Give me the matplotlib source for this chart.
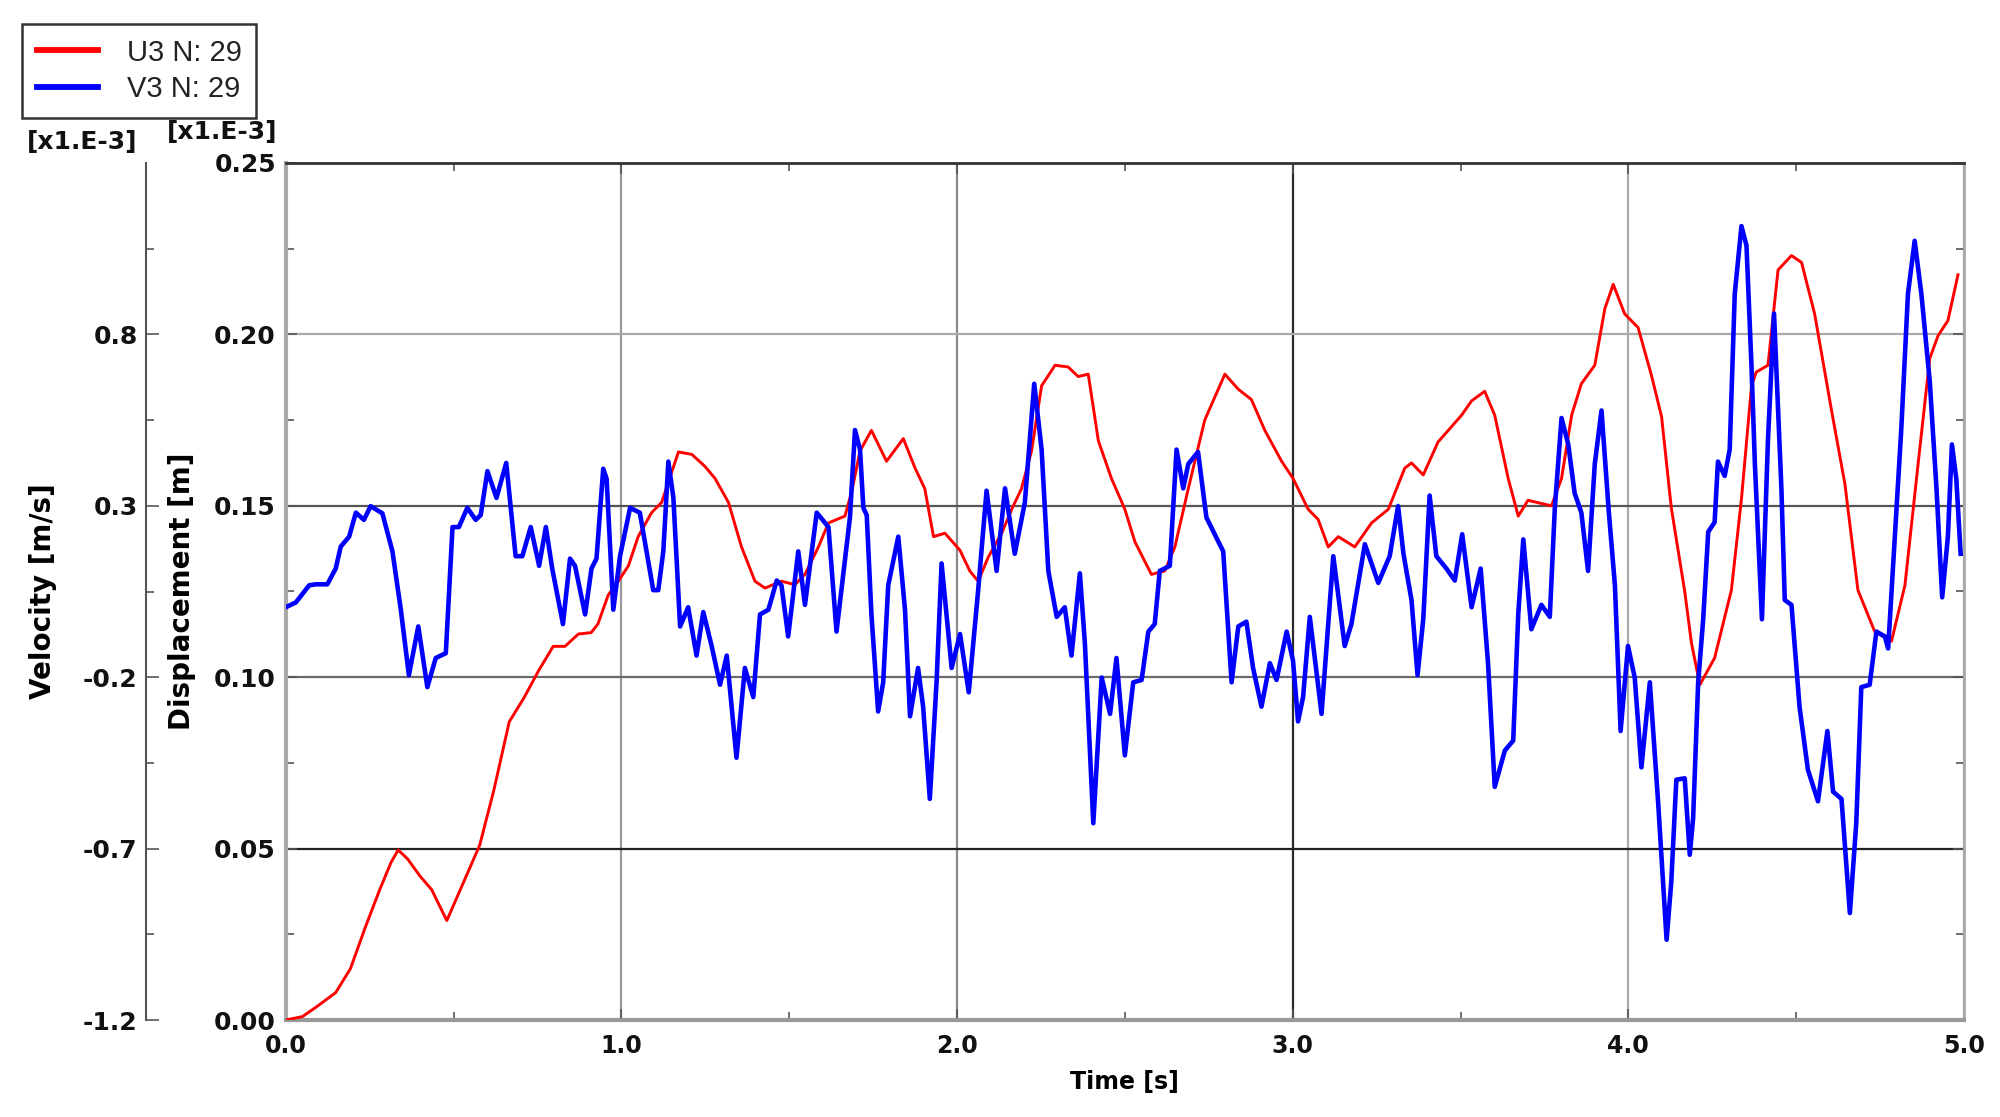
import matplotlib
matplotlib.use('Agg')
import matplotlib.pyplot as plt
from matplotlib.ticker import FixedLocator, FormatStrFormatter, MultipleLocator
from matplotlib.lines import Line2D

plt.rcParams['font.family'] = ['DejaVu Sans']

# ---------------- data ----------------
# U3 displacement [m] (x1.E-3)
time_u3 = [0.000, 0.050, 0.094, 0.149, 0.193, 0.237, 0.280, 0.314, 0.335, 0.363,
           0.400, 0.435, 0.480, 0.520, 0.578, 0.620, 0.666, 0.710, 0.754, 0.797,
           0.832, 0.872, 0.910, 0.930, 0.961, 0.991, 1.021, 1.050, 1.090, 1.120,
           1.170, 1.210, 1.249, 1.279, 1.319, 1.358, 1.398, 1.428, 1.477, 1.517,
           1.547, 1.587, 1.617, 1.666, 1.686, 1.711, 1.745, 1.790, 1.840, 1.875,
           1.904, 1.930, 1.964, 2.009, 2.038, 2.063, 2.093, 2.133, 2.163, 2.192,
           2.222, 2.252, 2.292, 2.331, 2.361, 2.391, 2.421, 2.460, 2.500, 2.530,
           2.579, 2.619, 2.649, 2.689, 2.738, 2.798, 2.838, 2.877, 2.917, 2.967,
           3.001, 3.046, 3.076, 3.106, 3.136, 3.185, 3.235, 3.285, 3.334, 3.354,
           3.389, 3.433, 3.503, 3.533, 3.572, 3.602, 3.642, 3.672, 3.701, 3.771,
           3.801, 3.831, 3.860, 3.900, 3.930, 3.955, 3.989, 4.029, 4.069, 4.099,
           4.128, 4.168, 4.188, 4.213, 4.257, 4.307, 4.337, 4.367, 4.381, 4.416,
           4.446, 4.486, 4.516, 4.555, 4.605, 4.645, 4.684, 4.734, 4.784, 4.824,
           4.863, 4.898, 4.923, 4.952, 4.982]
disp_u3 = [0.000, 0.001, 0.004, 0.008, 0.015, 0.027, 0.038, 0.046, 0.0496, 0.047,
           0.042, 0.038, 0.029, 0.038, 0.051, 0.067, 0.087, 0.094, 0.102, 0.109,
           0.109, 0.1126, 0.113, 0.1155, 0.124, 0.128, 0.1325, 0.141, 0.148, 0.151,
           0.1657, 0.165, 0.1615, 0.158, 0.151, 0.138, 0.128, 0.126, 0.128, 0.127,
           0.130, 0.138, 0.145, 0.147, 0.154, 0.166, 0.172, 0.163, 0.1696, 0.161,
           0.155, 0.141, 0.142, 0.137, 0.131, 0.128, 0.135, 0.142, 0.149, 0.155,
           0.166, 0.185, 0.191, 0.1905, 0.1877, 0.1884, 0.169, 0.158, 0.149, 0.1395,
           0.130, 0.131, 0.138, 0.155, 0.175, 0.1884, 0.184, 0.181, 0.172, 0.163,
           0.158, 0.149, 0.146, 0.138, 0.141, 0.138, 0.145, 0.149, 0.161, 0.1625,
           0.159, 0.1686, 0.1764, 0.1806, 0.1834, 0.1764, 0.158, 0.147, 0.1516, 0.150,
           0.158, 0.1764, 0.1856, 0.191, 0.2075, 0.2146, 0.206, 0.202, 0.188, 0.176,
           0.1494, 0.125, 0.110, 0.0978, 0.1056, 0.1254, 0.152, 0.185, 0.189, 0.191,
           0.2188, 0.223, 0.221, 0.206, 0.178, 0.1565, 0.1254, 0.1133, 0.1105, 0.1268,
           0.162, 0.193, 0.1997, 0.204, 0.2174]

# V3 velocity [m/s] (x1.E-3)
time_v3 = [0.000, 0.030, 0.070, 0.089, 0.124, 0.149, 0.164, 0.189, 0.209, 0.233,
           0.253, 0.288, 0.318, 0.343, 0.367, 0.395, 0.422, 0.447, 0.477, 0.497,
           0.516, 0.541, 0.566, 0.581, 0.601, 0.628, 0.657, 0.685, 0.705, 0.730,
           0.755, 0.775, 0.794, 0.826, 0.847, 0.862, 0.892, 0.911, 0.926, 0.946,
           0.956, 0.976, 0.996, 1.026, 1.055, 1.095, 1.110, 1.125, 1.140, 1.155,
           1.175, 1.199, 1.224, 1.244, 1.269, 1.294, 1.314, 1.343, 1.368, 1.393,
           1.413, 1.438, 1.463, 1.477, 1.497, 1.527, 1.547, 1.582, 1.617, 1.641,
           1.681, 1.696, 1.711, 1.721, 1.731, 1.745, 1.765, 1.780, 1.795, 1.825,
           1.845, 1.860, 1.884, 1.899, 1.919, 1.939, 1.954, 1.984, 2.009, 2.035,
           2.063, 2.088, 2.118, 2.143, 2.172, 2.202, 2.230, 2.252, 2.272, 2.297,
           2.321, 2.341, 2.366, 2.381, 2.406, 2.431, 2.456, 2.475, 2.500, 2.525,
           2.550, 2.570, 2.589, 2.604, 2.634, 2.654, 2.674, 2.689, 2.718, 2.743,
           2.793, 2.818, 2.838, 2.862, 2.882, 2.907, 2.932, 2.952, 2.982, 3.001,
           3.016, 3.031, 3.051, 3.086, 3.121, 3.155, 3.175, 3.215, 3.255, 3.289,
           3.314, 3.330, 3.354, 3.372, 3.389, 3.408, 3.428, 3.458, 3.483, 3.505,
           3.533, 3.560, 3.582, 3.602, 3.632, 3.657, 3.672, 3.687, 3.711, 3.741,
           3.766, 3.781, 3.801, 3.821, 3.840, 3.860, 3.880, 3.900, 3.920, 3.942,
           3.960, 3.977, 3.999, 4.019, 4.039, 4.064, 4.089, 4.114, 4.128, 4.143,
           4.168, 4.183, 4.193, 4.208, 4.223, 4.238, 4.257, 4.267, 4.287, 4.302,
           4.317, 4.337, 4.352, 4.367, 4.377, 4.398, 4.416, 4.434, 4.456, 4.466,
           4.486, 4.510, 4.535, 4.565, 4.593, 4.610, 4.635, 4.660, 4.679, 4.694,
           4.719, 4.739, 4.764, 4.774, 4.794, 4.813, 4.833, 4.853, 4.873, 4.898,
           4.918, 4.935, 4.952, 4.964, 4.977, 4.990]
vel_v3 = [0.004, 0.018, 0.068, 0.071, 0.071, 0.117, 0.181, 0.210, 0.280, 0.259,
          0.299, 0.278, 0.167, -0.003, -0.194, -0.052, -0.229, -0.144, -0.130, 0.238,
          0.238, 0.294, 0.259, 0.273, 0.401, 0.323, 0.425, 0.153, 0.153, 0.238,
          0.125, 0.238, 0.117, -0.045, 0.146, 0.125, -0.017, 0.117, 0.146, 0.408,
          0.379, -0.003, 0.153, 0.294, 0.280, 0.054, 0.054, 0.167, 0.429, 0.323,
          -0.052, 0.004, -0.137, -0.010, -0.109, -0.222, -0.137, -0.435, -0.173, -0.258,
          -0.017, -0.003, 0.082, 0.068, -0.081, 0.167, 0.011, 0.280, 0.238, -0.067,
          0.266, 0.521, 0.464, 0.294, 0.273, -0.017, -0.300, -0.215, 0.068, 0.210,
          -0.003, -0.314, -0.173, -0.286, -0.555, -0.215, 0.132, -0.173, -0.074, -0.244,
          0.054, 0.344, 0.110, 0.351, 0.160, 0.309, 0.656, 0.464, 0.110, -0.024,
          0.004, -0.137, 0.103, -0.102, -0.626, -0.201, -0.307, -0.144, -0.428, -0.215,
          -0.208, -0.067, -0.045, 0.110, 0.125, 0.464, 0.351, 0.422, 0.457, 0.266,
          0.167, -0.215, -0.052, -0.038, -0.173, -0.286, -0.159, -0.208, -0.067, -0.152,
          -0.329, -0.258, -0.024, -0.307, 0.153, -0.109, -0.045, 0.188, 0.075, 0.153,
          0.299, 0.160, 0.025, -0.194, -0.031, 0.330, 0.153, 0.117, 0.082, 0.217,
          0.004, 0.117, -0.159, -0.520, -0.414, -0.385, -0.017, 0.202, -0.060, 0.011,
          -0.024, 0.294, 0.556, 0.479, 0.337, 0.280, 0.110, 0.422, 0.578, 0.280,
          0.068, -0.357, -0.109, -0.201, -0.463, -0.215, -0.569, -0.966, -0.796, -0.499,
          -0.495, -0.718, -0.612, -0.215, -0.031, 0.224, 0.252, 0.429, 0.387, 0.464,
          0.918, 1.116, 1.059, 0.705, 0.422, -0.031, 0.493, 0.861, 0.351, 0.025,
          0.011, -0.286, -0.470, -0.562, -0.357, -0.534, -0.555, -0.888, -0.626, -0.229,
          -0.222, -0.067, -0.081, -0.116, 0.210, 0.521, 0.918, 1.073, 0.918, 0.663,
          0.351, 0.033, 0.210, 0.479, 0.379, 0.160]

labels = ['U3 N: 29', 'V3 N: 29']
x_ticks = [0, 1, 2, 3, 4, 5]
disp_ticks = [0.00, 0.05, 0.10, 0.15, 0.20, 0.25]
vel_ticks = [-1.2, -0.7, -0.2, 0.3, 0.8]
vel_minor = [-0.95, -0.45, 0.05, 0.55, 1.05]

# ---------------- figure ----------------
W, H = 2000, 1117
fig = plt.figure(figsize=(W / 100, H / 100), dpi=100)
L, R = 285.7 / W, 1964 / W
B, T = 1 - 1020 / H, 1 - 163 / H
ax = fig.add_axes([L, B, R - L, T - B])
ax.set_xlim(0, 5)
ax.set_ylim(0, 0.25)

red, blue = '#ff0000', '#0000ff'
ax.plot(time_u3, disp_u3, color=red, lw=2.1, zorder=3)

ax2 = ax.twinx()
ax2.set_ylim(-1.2, 1.3)
ax2.plot(time_v3, vel_v3, color=blue, lw=3.3, zorder=3)

# ticks main axes
ax.xaxis.set_major_locator(FixedLocator(x_ticks))
ax.xaxis.set_minor_locator(MultipleLocator(0.5))
ax.xaxis.set_major_formatter(FormatStrFormatter('%.1f'))
ax.yaxis.set_major_locator(FixedLocator(disp_ticks))
ax.yaxis.set_minor_locator(MultipleLocator(0.025))
ax.yaxis.set_major_formatter(FormatStrFormatter('%.2f'))
ax.tick_params(which='both', direction='in', top=True, right=True, color='#555')
ax.tick_params(which='major', length=8, width=1.2)
ax.tick_params(which='minor', length=6, width=1.2)
ax.tick_params(axis='y', which='major', pad=7, labelsize=18)
ax.tick_params(axis='x', which='major', pad=10, labelsize=17)
for lab in ax.get_xticklabels() + ax.get_yticklabels():
    lab.set_fontweight('bold')
    lab.set_color('#111')

ax.grid(True, which='major', lw=1.6)
xgrid_cols = ['#999999', '#999999', '#8a8a8a', '#2a2a2a', '#aaaaaa', '#999999']
ygrid_cols = ['#999999', '#222222', '#6a6a6a', '#555555', '#aaaaaa', '#999999']
for gl, c in zip(ax.get_xgridlines(), xgrid_cols):
    gl.set_color(c)
for gl, c in zip(ax.get_ygridlines(), ygrid_cols):
    gl.set_color(c)

ax.spines['top'].set_color('#333333'); ax.spines['top'].set_linewidth(2)
ax.spines['left'].set_color('#aaaaaa'); ax.spines['left'].set_linewidth(3)
ax.spines['bottom'].set_color('#999999'); ax.spines['bottom'].set_linewidth(3)
ax.spines['right'].set_color('#aaaaaa'); ax.spines['right'].set_linewidth(2)

# velocity axis, offset to the left
for s in ['right', 'top', 'bottom']:
    ax2.spines[s].set_visible(False)
ax2.spines['left'].set_visible(True)
ax2.spines['left'].set_position(('axes', (146 - 285.7) / (1964 - 285.7)))
ax2.spines['left'].set_color('#555555')
ax2.spines['left'].set_linewidth(1.5)
ax2.yaxis.set_ticks_position('left')
ax2.yaxis.set_label_position('left')
ax2.yaxis.set_major_locator(FixedLocator(vel_ticks))
ax2.yaxis.set_minor_locator(FixedLocator(vel_minor))
ax2.yaxis.set_major_formatter(FormatStrFormatter('%.1f'))
ax2.tick_params(which='both', direction='in', color='#555', width=1.2)
ax2.tick_params(which='major', length=9, pad=6, labelsize=18)
ax2.tick_params(which='minor', length=6)
for lab in ax2.get_yticklabels():
    lab.set_fontweight('bold')
    lab.set_color('#111')

# axis labels
axw = 1964 - 285.7
axh = 1020 - 163
ax.set_xlabel('Time [s]', fontsize=17, fontweight='bold', va='center')
ax.xaxis.set_label_coords(0.5, (1020 - 1082) / axh)
ax.set_ylabel('Displacement [m]', fontsize=20, fontweight='bold', va='center')
ax.yaxis.set_label_coords((182 - 285.7) / axw, 0.5)
ax2.set_ylabel('Velocity [m/s]', fontsize=20, fontweight='bold', va='center')
ax2.yaxis.set_label_coords((43 - 285.7) / axw, 0.5)

fig.text(82 / W, 1 - 142 / H, '[x1.E-3]', fontsize=18, fontweight='bold',
         ha='center', va='center', color='#111')
fig.text(222 / W, 1 - 132 / H, '[x1.E-3]', fontsize=18, fontweight='bold',
         ha='center', va='center', color='#111')

# legend
handles = [Line2D([], [], color=red, lw=4.2), Line2D([], [], color=blue, lw=4.2)]
leg = fig.legend(handles, labels, loc='upper left', bbox_to_anchor=(22 / W, 1 - 24 / H),
                 borderaxespad=0, frameon=True, fancybox=False, framealpha=1,
                 edgecolor='#333333', prop=dict(family='Liberation Sans', size=21),
                 handlelength=2.1, handletextpad=1.0, borderpad=0.5, labelspacing=0.3)
leg.get_frame().set_linewidth(1.8)
for txt in leg.get_texts():
    txt.set_color('#222222')

fig.savefig('out.png', dpi=100, facecolor='white')
